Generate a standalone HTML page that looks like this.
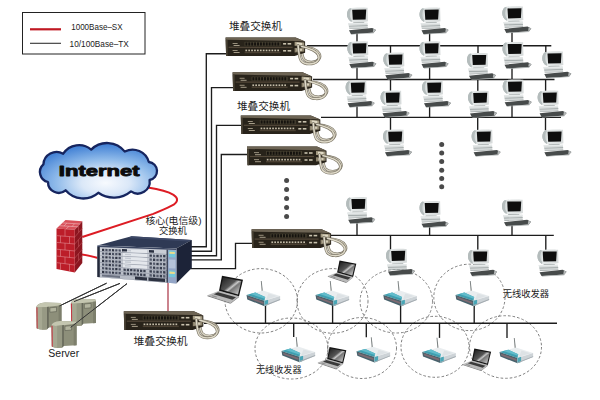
<!DOCTYPE html>
<html><head><meta charset="utf-8"><title>Network topology</title>
<style>
html,body{margin:0;padding:0;background:#fff;}
body{width:600px;height:400px;overflow:hidden;}
svg{display:block;font-family:"Liberation Sans",sans-serif;}
</style></head><body>
<svg width="600" height="400" viewBox="0 0 600 400">
<rect width="600" height="400" fill="#ffffff"/>

<defs>
<radialGradient id="cloudg" cx="0.56" cy="0.72" r="0.68">
 <stop offset="0" stop-color="#f7fafe"/>
 <stop offset="0.3" stop-color="#dbe8f8"/>
 <stop offset="0.62" stop-color="#90bbea"/>
 <stop offset="1" stop-color="#4684d6"/>
</radialGradient>
<linearGradient id="scr" x1="0" y1="0" x2="1" y2="1">
 <stop offset="0" stop-color="#1c1c1c"/><stop offset="0.45" stop-color="#555"/><stop offset="0.55" stop-color="#c8c8c8"/><stop offset="0.62" stop-color="#777"/><stop offset="1" stop-color="#d8d8d8"/>
</linearGradient>
<linearGradient id="mon" x1="0" y1="0" x2="1" y2="0">
 <stop offset="0" stop-color="#aeb6b6"/><stop offset="0.25" stop-color="#e4e8e8"/><stop offset="1" stop-color="#d6dada"/>
</linearGradient>
<linearGradient id="aptop" x1="0" y1="0" x2="1" y2="0">
 <stop offset="0" stop-color="#2f8fa4"/><stop offset="0.36" stop-color="#4db4c4"/><stop offset="0.42" stop-color="#dfe6ea"/><stop offset="1" stop-color="#eef1f3"/>
</linearGradient>
<linearGradient id="coref" x1="0" y1="0" x2="0" y2="1">
 <stop offset="0" stop-color="#cdd1d8"/><stop offset="1" stop-color="#b3b8c3"/>
</linearGradient>

<!-- stacked switch: origin top-left -->
<g id="sw">
 <path d="M75.5,9 C76,15 76.5,19.5 78.5,22 C82,25.8 90,25.6 93.5,21.5 C96,18 93,13.5 88,11.5 C84,10 80,9.5 77,9.3" fill="none" stroke="#7d7768" stroke-width="2.7" stroke-linecap="round"/>
 <path d="M75.5,9 C76,15 76.5,19.5 78.5,22 C82,25.8 90,25.6 93.5,21.5 C96,18 93,13.5 88,11.5 C84,10 80,9.5 77,9.3" fill="none" stroke="#d6d1c0" stroke-width="1.4" stroke-linecap="round"/>
 <path d="M0,0 L70,0 L79.5,4.2 L79.5,15.3 L69,18.7 L0.5,18.7 Z" fill="#28231a"/>
 <path d="M0,0 L70,0 L79.5,4.2 L69.5,3.6 L0,2.4 Z" fill="#6d6454"/>
 <path d="M0,2.4 L2,2.6 L2,18.7 L0.5,18.7 Z" fill="#4a4336"/>
 <rect x="3" y="9.3" width="64" height="1.2" fill="#54493a"/>
 <rect x="19" y="4.5" width="36" height="4" fill="#4a4434"/>
 <g fill="#15120e"><rect x="19.8" y="5" width="2" height="3.2"/><rect x="22.7" y="5" width="2" height="3.2"/><rect x="25.6" y="5" width="2" height="3.2"/><rect x="28.5" y="5" width="2" height="3.2"/><rect x="31.4" y="5" width="2" height="3.2"/><rect x="34.3" y="5" width="2" height="3.2"/><rect x="37.2" y="5" width="2" height="3.2"/><rect x="40.1" y="5" width="2" height="3.2"/><rect x="43.0" y="5" width="2" height="3.2"/><rect x="45.9" y="5" width="2" height="3.2"/><rect x="48.8" y="5" width="2" height="3.2"/><rect x="51.7" y="5" width="2" height="3.2"/></g>
 <g fill="#c4bca8"><rect x="19.8" y="12.2" width="1.7" height="1.7"/><rect x="22.7" y="12.2" width="1.7" height="1.7"/><rect x="25.6" y="12.2" width="1.7" height="1.7"/><rect x="28.5" y="12.2" width="1.7" height="1.7"/><rect x="31.4" y="12.2" width="1.7" height="1.7"/><rect x="34.3" y="12.2" width="1.7" height="1.7"/><rect x="37.2" y="12.2" width="1.7" height="1.7"/><rect x="40.1" y="12.2" width="1.7" height="1.7"/><rect x="43.0" y="12.2" width="1.7" height="1.7"/><rect x="45.9" y="12.2" width="1.7" height="1.7"/><rect x="48.8" y="12.2" width="1.7" height="1.7"/><rect x="51.7" y="12.2" width="1.7" height="1.7"/></g>
 <rect x="19" y="14.3" width="36" height="1.5" fill="#4a4032"/>
 <g fill="#a59c88"><rect x="7" y="5.6" width="5" height="0.9"/><rect x="8" y="7.6" width="6" height="1"/><rect x="7" y="12.6" width="5" height="0.9"/><rect x="8" y="14.6" width="6" height="1"/></g>
 <g fill="#c9c2ae"><rect x="57.5" y="5.6" width="3" height="1.6"/><rect x="62" y="5.6" width="3.6" height="1.6"/><rect x="57.5" y="12.6" width="3" height="1.6"/><rect x="62" y="12.6" width="3.6" height="1.6"/></g>
 <path d="M69,4.4 L78.6,5 L78.6,8.6 L69,8.3 Z" fill="#a39a82"/>
 <path d="M69,10.6 L78.6,10.6 L78.6,14.2 L69,15 Z" fill="#8d846e"/>
 <path d="M71,5.2 L76.5,5.5 L76.5,7.6 L71,7.4 Z" fill="#e0dac6"/>
 <path d="M71,11.4 L76.5,11.3 L76.5,13.4 L71,13.8 Z" fill="#d4cdb8"/>
 <path d="M72.5,8 C73,14.5 73.5,20.5 75.5,23.4 C79,27.6 88,27.6 92,23.6 C95.5,19.6 92,14.8 87,12.5 C83,10.8 79,9.6 76,9" fill="none" stroke="#7d7768" stroke-width="2.7" stroke-linecap="round"/>
 <path d="M72.5,8 C73,14.5 73.5,20.5 75.5,23.4 C79,27.6 88,27.6 92,23.6 C95.5,19.6 92,14.8 87,12.5 C83,10.8 79,9.6 76,9" fill="none" stroke="#e0dbca" stroke-width="1.4" stroke-linecap="round"/>
</g>

<!-- computer: origin = monitor top-left -->
<g id="pc">
 <path d="M3.2,0.6 C6,-0.2 16,-0.3 20.6,0.2 L21,13.6 C17,14.8 8,15 4.4,14.4 C1.5,13 -0.2,9.5 0,6.5 C0.2,3.4 1.4,1.4 3.2,0.6 Z" fill="url(#mon)"/>
 <path d="M5.2,2.1 L19.2,1.9 L18.6,11.8 L5.8,12.1 Z" fill="#0e0e0e"/>
 <path d="M3.2,0.6 C1.4,1.4 0.2,3.4 0,6.5 C-0.2,9.5 1.5,13 4.4,14.4 L4.8,12.6 C3.2,11 2.6,8.6 2.8,6.2 C3,3.8 3.6,2.2 4.6,1.4 Z" fill="#b4bcbc"/>
 <path d="M6.5,14.6 L17,14.4 L17.6,15.6 L5.6,15.8 Z" fill="#aab0b0"/>
 <path d="M1.2,15.6 L20.4,15.2 L20.8,20 L2.2,20.8 Z" fill="#d4d8d8"/>
 <path d="M1.2,15.6 L20.4,15.2 L20.5,16.5 L1.4,17 Z" fill="#e6eaea"/>
 <path d="M2,18.3 L20.7,17.7 L20.7,18.4 L2.1,19 Z" fill="#9aa2a2"/>
 <path d="M2.2,20.8 L20.8,20 L20.9,20.6 L2.5,21.4 Z" fill="#9aa2a2"/>
 <path d="M2,22.7 L25.2,20.3 L29,22.3 L26.8,25 L4,26.6 Z" fill="#474b4b"/>
 <path d="M26.4,21 L29,22.3 L26.8,25 L25.8,24.2 Z" fill="#b4b8b8"/>
 <path d="M4.4,26.4 L26.8,25.1 L26.8,25.7 L4.5,27 Z" fill="#a4aaaa"/>
</g>

<!-- access point: origin = bbox top-left of body -->
<g id="ap">
 <path d="M14.3,-9.6 L15.2,-9.6 L16.5,2 L15.3,2 Z" fill="#7a8080"/>
 <path d="M0,4.5 L16.5,0 L33.6,5.5 L18,10.3 Z" fill="#e9edef"/>
 <path d="M22,3 L31,5.6 L19.5,9.2 Z" fill="#dde2e5"/>
 <path d="M0,4.5 L8.8,2.1 L18.7,6.6 L18,10.3 Z" fill="#3f9fb0"/>
 <path d="M4,3.5 L8.8,2.1 L18.7,6.6 L18.4,8.2 Z" fill="#62bccb"/>
 <path d="M0,4.5 L18,10.3 L18,15.7 L0.8,9 Z" fill="#48626c"/>
 <path d="M1.5,6.2 L17,11.4 L17,13.4 L2,8.1 Z" fill="#7f6a72"/>
 <path d="M18,10.3 L33.6,5.5 L33.6,9.5 L18,15.7 Z" fill="#cdd3d7"/>
 <path d="M18,10.3 L21.6,9.2 L21.6,14.3 L18,15.7 Z" fill="#49a6b6"/>
 <path d="M18,14.6 L33.6,8.6 L33.6,9.5 L18,15.7 Z" fill="#a3abb0"/>
</g>

<!-- laptop (large): origin = screen top-left -->
<g id="lap">
 <path d="M-3,15 L17,20.5 L8.5,27 L-14.5,19.5 Z" fill="#b9b9b9"/>
 <path d="M-14.5,19.5 L8.5,27 L8.5,28 L-14.5,20.4 Z" fill="#7c7c7c"/>
 <path d="M8.5,27 L17,20.5 L17,21.4 L8.5,28 Z" fill="#8a8a8a"/>
 <path d="M-4,16.4 L14,21.4 L10.4,24 L-8.2,18.4 Z" fill="#3a3a3a"/>
 <path d="M-9.4,19.4 L-4.6,20.9 L-5.8,21.8 L-10.6,20.2 Z" fill="#8e8e8e"/>
 <path d="M0,0 L21,4 L17,20.5 L-3,15 Z" fill="#141414"/>
 <path d="M1.2,1.8 L19.4,5.2 L16,18.6 L-1.4,13.8 Z" fill="url(#scr)"/>
</g>
</defs>

<rect x="22.5" y="12.5" width="122.5" height="41.5" fill="#fff" stroke="#222" stroke-width="1"/>
<path d="M30.00,29.30 L61.00,29.30" fill="none" stroke="#c01822" stroke-width="2.2" />
<path d="M30.00,43.30 L61.00,43.30" fill="none" stroke="#333" stroke-width="1.1" />
<text x="71.2" y="30.1" font-size="8.7" fill="#222" textLength="51.4" lengthAdjust="spacingAndGlyphs">1000Base–SX</text>
<text x="69.6" y="47.4" font-size="8.7" fill="#222" textLength="59.2" lengthAdjust="spacingAndGlyphs">10/100Base–TX</text>
<ellipse cx="261.2" cy="300.8" rx="36.2" ry="32.2" fill="none" stroke="#707070" stroke-width="0.9" stroke-dasharray="2.6 2"/>
<ellipse cx="332.5" cy="300.9" rx="35.5" ry="32.3" fill="none" stroke="#707070" stroke-width="0.9" stroke-dasharray="2.6 2"/>
<ellipse cx="396.3" cy="301.2" rx="36.2" ry="31.8" fill="none" stroke="#707070" stroke-width="0.9" stroke-dasharray="2.6 2"/>
<ellipse cx="469.4" cy="297.4" rx="35.6" ry="33.2" fill="none" stroke="#707070" stroke-width="0.9" stroke-dasharray="2.6 2"/>
<ellipse cx="291.5" cy="348.5" rx="36.5" ry="30.5" fill="none" stroke="#707070" stroke-width="0.9" stroke-dasharray="2.6 2"/>
<ellipse cx="362" cy="348" rx="34.5" ry="30.5" fill="none" stroke="#707070" stroke-width="0.9" stroke-dasharray="2.6 2"/>
<ellipse cx="435" cy="346.8" rx="34" ry="30.5" fill="none" stroke="#707070" stroke-width="0.9" stroke-dasharray="2.6 2"/>
<ellipse cx="505.5" cy="347" rx="36" ry="31.3" fill="none" stroke="#707070" stroke-width="0.9" stroke-dasharray="2.6 2"/>
<path d="M226.00,53.70 L206.30,53.70 L206.30,246.70 L191.00,246.70" fill="none" stroke="#1c1c1c" stroke-width="1.35" />
<path d="M233.00,87.60 L211.50,87.60 L211.50,251.20 L191.00,251.20" fill="none" stroke="#1c1c1c" stroke-width="1.35" />
<path d="M241.00,125.30 L216.50,125.30 L216.50,255.70 L191.00,255.70" fill="none" stroke="#1c1c1c" stroke-width="1.35" />
<path d="M247.00,154.50 L221.30,154.50 L221.30,259.80 L191.00,259.80" fill="none" stroke="#1c1c1c" stroke-width="1.35" />
<path d="M190.50,268.60 L235.50,268.60 L235.50,243.30 L253.00,243.30" fill="none" stroke="#1c1c1c" stroke-width="1.35" />
<path d="M307.00,45.70 L551.30,45.70" fill="none" stroke="#1c1c1c" stroke-width="1.35" />
<path d="M313.00,79.50 L554.50,79.50" fill="none" stroke="#1c1c1c" stroke-width="1.35" />
<path d="M321.00,117.40 L561.00,117.40" fill="none" stroke="#1c1c1c" stroke-width="1.35" />
<path d="M330.00,235.30 L553.80,235.30" fill="none" stroke="#1c1c1c" stroke-width="1.35" />
<path d="M204.00,323.20 L557.00,323.20" fill="none" stroke="#1c1c1c" stroke-width="1.35" />
<path d="M106.60,283.20 L59.40,306.00" fill="none" stroke="#333" stroke-width="1.0" />
<path d="M120.00,283.40 L74.00,301.60" fill="none" stroke="#333" stroke-width="1.0" />
<path d="M127.00,283.60 L70.60,327.40" fill="none" stroke="#333" stroke-width="1.0" />
<path d="M147.8,187.6 C158,189.2 168,191.6 173.5,194.8 C178.5,198 178.6,202 171.7,205.7 C166,208.6 160,211.2 153.3,213.9 L82.3,237" fill="none" stroke="#dd1c24" stroke-width="2"/>
<path d="M82,254.6 C88,255.4 92,256.4 98,258" fill="none" stroke="#dd1c24" stroke-width="2"/>
<path d="M168.00,281.00 L168.00,311.50" fill="none" stroke="#a01e30" stroke-width="1.1" />
<path d="M357.00,32.60 L357.00,45.70" fill="none" stroke="#1c1c1c" stroke-width="1.35" />
<path d="M429.60,32.60 L429.60,45.70" fill="none" stroke="#1c1c1c" stroke-width="1.35" />
<path d="M512.00,31.30 L512.00,45.70" fill="none" stroke="#1c1c1c" stroke-width="1.35" />
<path d="M357.00,66.40 L357.00,79.50" fill="none" stroke="#1c1c1c" stroke-width="1.35" />
<path d="M429.60,66.40 L429.60,79.50" fill="none" stroke="#1c1c1c" stroke-width="1.35" />
<path d="M512.00,67.00 L512.00,79.50" fill="none" stroke="#1c1c1c" stroke-width="1.35" />
<path d="M390.50,45.70 L390.50,53.60" fill="none" stroke="#1c1c1c" stroke-width="1.35" />
<path d="M478.00,45.70 L478.00,54.00" fill="none" stroke="#1c1c1c" stroke-width="1.35" />
<path d="M545.80,45.70 L545.80,52.40" fill="none" stroke="#1c1c1c" stroke-width="1.35" />
<path d="M357.00,105.60 L357.00,117.40" fill="none" stroke="#1c1c1c" stroke-width="1.35" />
<path d="M429.60,105.60 L429.60,117.40" fill="none" stroke="#1c1c1c" stroke-width="1.35" />
<path d="M512.00,104.60 L512.00,117.40" fill="none" stroke="#1c1c1c" stroke-width="1.35" />
<path d="M390.50,79.50 L390.50,91.60" fill="none" stroke="#1c1c1c" stroke-width="1.35" />
<path d="M477.80,79.50 L477.80,91.80" fill="none" stroke="#1c1c1c" stroke-width="1.35" />
<path d="M545.60,79.50 L545.60,91.60" fill="none" stroke="#1c1c1c" stroke-width="1.35" />
<path d="M390.50,117.40 L390.50,130.60" fill="none" stroke="#1c1c1c" stroke-width="1.35" />
<path d="M477.70,117.40 L477.70,130.60" fill="none" stroke="#1c1c1c" stroke-width="1.35" />
<path d="M545.50,117.40 L545.50,130.60" fill="none" stroke="#1c1c1c" stroke-width="1.35" />
<path d="M357.00,222.00 L357.00,235.30" fill="none" stroke="#1c1c1c" stroke-width="1.35" />
<path d="M429.60,226.00 L429.60,235.30" fill="none" stroke="#1c1c1c" stroke-width="1.35" />
<path d="M512.00,224.50 L512.00,235.30" fill="none" stroke="#1c1c1c" stroke-width="1.35" />
<path d="M390.50,235.30 L390.50,249.80" fill="none" stroke="#1c1c1c" stroke-width="1.35" />
<path d="M477.80,235.30 L477.80,250.50" fill="none" stroke="#1c1c1c" stroke-width="1.35" />
<path d="M545.80,235.30 L545.80,250.50" fill="none" stroke="#1c1c1c" stroke-width="1.35" />
<use href="#pc" x="347" y="7.6"/>
<use href="#pc" x="419.5" y="7.6"/>
<use href="#pc" x="502.3" y="6.3"/>
<use href="#pc" x="347.3" y="41.4"/>
<use href="#pc" x="419.5" y="41.4"/>
<use href="#pc" x="502.5" y="42"/>
<use href="#pc" x="383.3" y="52.6"/>
<use href="#pc" x="467" y="53"/>
<use href="#pc" x="542.3" y="51.4"/>
<use href="#pc" x="345.6" y="80.6"/>
<use href="#pc" x="422" y="80.6"/>
<use href="#pc" x="502.7" y="79.6"/>
<use href="#pc" x="380.5" y="90.6"/>
<use href="#pc" x="468" y="90.8"/>
<use href="#pc" x="537.6" y="90.6"/>
<use href="#pc" x="383" y="129.6"/>
<use href="#pc" x="471.6" y="129.6"/>
<use href="#pc" x="542.4" y="129.6"/>
<use href="#pc" x="346.2" y="197"/>
<use href="#pc" x="419.5" y="201"/>
<use href="#pc" x="502" y="199.5"/>
<use href="#pc" x="386" y="248.8"/>
<use href="#pc" x="468" y="249.5"/>
<use href="#pc" x="537.5" y="249.5"/>
<circle cx="286.6" cy="180.5" r="2.5" fill="#4a4a4a"/>
<circle cx="286.6" cy="189.5" r="2.5" fill="#4a4a4a"/>
<circle cx="286.6" cy="198.5" r="2.5" fill="#4a4a4a"/>
<circle cx="286.6" cy="207.5" r="2.5" fill="#4a4a4a"/>
<circle cx="286.6" cy="216.5" r="2.5" fill="#4a4a4a"/>
<circle cx="441.7" cy="144.6" r="2.5" fill="#4a4a4a"/>
<circle cx="441.7" cy="153" r="2.5" fill="#4a4a4a"/>
<circle cx="441.7" cy="161.4" r="2.5" fill="#4a4a4a"/>
<circle cx="441.7" cy="170.2" r="2.5" fill="#4a4a4a"/>
<circle cx="441.7" cy="178.5" r="2.5" fill="#4a4a4a"/>
<circle cx="441.7" cy="186.8" r="2.5" fill="#4a4a4a"/>
<path d="M265.50,303.50 L265.50,323.20" fill="none" stroke="#1c1c1c" stroke-width="1.35" />
<path d="M332.60,303.50 L332.60,323.20" fill="none" stroke="#1c1c1c" stroke-width="1.35" />
<path d="M400.60,303.50 L400.60,323.20" fill="none" stroke="#1c1c1c" stroke-width="1.35" />
<path d="M474.20,303.50 L474.20,323.20" fill="none" stroke="#1c1c1c" stroke-width="1.35" />
<path d="M293.70,323.20 L293.70,337.00" fill="none" stroke="#1c1c1c" stroke-width="1.35" />
<path d="M366.30,323.20 L366.30,337.30" fill="none" stroke="#1c1c1c" stroke-width="1.35" />
<path d="M439.50,323.20 L439.50,337.90" fill="none" stroke="#1c1c1c" stroke-width="1.35" />
<path d="M507.00,323.20 L507.00,338.10" fill="none" stroke="#1c1c1c" stroke-width="1.35" />
<use href="#ap" x="246.5" y="290.5"/>
<use href="#ap" x="315.5" y="290.5"/>
<use href="#ap" x="383.3" y="290.5"/>
<use href="#ap" x="455.5" y="290.5"/>
<use href="#ap" x="281.5" y="346.5"/>
<use href="#ap" x="356.5" y="346.8"/>
<use href="#ap" x="422.2" y="347.4"/>
<use href="#ap" x="499.5" y="347.6"/>
<use href="#lap" x="222" y="275.8"/>
<g transform="translate(339.5,260.5) scale(0.8)"><use href="#lap"/></g>
<g transform="translate(329.5,347) scale(0.8)"><use href="#lap"/></g>
<g transform="translate(474.3,348.6) scale(0.8)"><use href="#lap"/></g>
<use href="#sw" x="225.6" y="37.4"/>
<use href="#sw" x="232.6" y="72.2"/>
<use href="#sw" x="240.8" y="115.4"/>
<use href="#sw" x="247" y="146.6"/>
<use href="#sw" x="251.6" y="229.2"/>
<use href="#sw" x="123.8" y="311.3"/>
<path d="M43.4,164.4 A13.2,13.2 0 0 1 63.2,153.7 A19,19 0 0 1 91.2,149.6 A22.5,22.5 0 0 1 124.8,151.6 A16.8,16.8 0 0 1 148.8,162 A9.1,9.1 0 0 1 149.6,180 A11.9,11.9 0 0 1 131,191.4 A27,27 0 0 1 98.3,192.8 A23,23 0 0 1 65.6,190.3 A10.7,10.7 0 0 1 48,182 A10.2,10.2 0 0 1 43.4,164.4 Z" fill="url(#cloudg)" stroke="#16255f" stroke-width="2.3" stroke-linejoin="round"/>
<text transform="translate(58.8,176.2) scale(1.47,1)" font-size="15" font-weight="bold" fill="#0c0c0c" stroke="#0c0c0c" stroke-width="0.9" stroke-linejoin="round">Internet</text>
<g>
<path d="M56.5,228.6 L65.5,220 L82.3,221.2 L74.8,229.8 Z" fill="#d8505a"/>
<path d="M74.8,229.8 L82.3,221.2 L82.3,263 L74.8,272.4 Z" fill="#8c1620"/>
<path d="M56.5,228.6 L74.8,229.8 L74.8,272.4 L56.5,269 Z" fill="#bc1d29"/>
<g stroke="#e3929a" stroke-width="0.55" fill="none">
<path d="M56.5,235.6 L74.8,237 M56.5,242.4 L74.8,244 M56.5,249.2 L74.8,251 M56.5,256 L74.8,258 M56.5,262.6 L74.8,265"/>
<path d="M65,229.2 L65,236.3 M60.5,235.9 L60.5,242.8 M69.5,236.6 L69.5,243.6 M65,243.1 L65,250.1 M60.5,249.6 L60.5,256.4 M69.5,250.5 L69.5,257.5 M65,257 L65,263.8 M60.5,263.2 L60.5,269.7 M69.5,264.2 L69.5,271.4"/>
</g>
<g stroke="#c05058" stroke-width="0.6" fill="none">
<path d="M74.8,237 L82.3,228.2 M74.8,244 L82.3,235.2 M74.8,251 L82.3,242.2 M74.8,258 L82.3,249.2 M74.8,265 L82.3,256"/>
<path d="M78.5,225.5 L78.5,232.6 M78.5,239.6 L78.5,246.8 M78.5,253.6 L78.5,260.6"/>
</g>
<g stroke="#f0b8bc" stroke-width="0.6" fill="none"><path d="M59.5,225.7 L77.8,226.8 M62.5,222.9 L80.2,224"/><path d="M66,229.2 L69,226.2 M72,226.5 L74.6,223.7 M64,225.9 L66.8,223.2"/></g>
</g>
<g><path d="M97.3,245.4 L131.5,236.2 L191.8,240 L176.3,248.4 Z" fill="#2f3a55"/><path d="M131.5,236.2 L191.8,240 L189,241.5 L128,238 Z" fill="#3d4866"/><path d="M176.3,248.4 L191.8,240 L191.8,268 L176.3,283.4 Z" fill="#1c2338"/><path d="M97.3,245.4 L176.3,248.4 L176.3,283.4 L97.3,277 Z" fill="url(#coref)"/><path d="M97.3,245.4 L176.3,248.4 L176.3,250 L97.3,247 Z" fill="#3a4560"/><path d="M97.3,247 L99.8,247.1 L99.8,277.2 L97.3,277 Z" fill="#23293a"/><path d="M99.8,251.33 L167.0,254.07 L167.0,254.48 L99.8,251.70 Z" fill="#7a8090"/><path d="M102.0,248.70 L104.3,248.79 L104.3,251.00 L102.0,250.91 Z" fill="#2e3342"/><path d="M105.3,248.82 L107.6,248.91 L107.6,251.13 L105.3,251.04 Z" fill="#4a5062"/><path d="M108.6,248.94 L110.9,249.03 L110.9,251.26 L108.6,251.17 Z" fill="#4a5062"/><path d="M111.9,249.06 L114.2,249.15 L114.2,251.40 L111.9,251.30 Z" fill="#2e3342"/><path d="M115.2,249.18 L117.5,249.27 L117.5,251.53 L115.2,251.44 Z" fill="#4a5062"/><path d="M118.5,249.30 L120.8,249.39 L120.8,251.66 L118.5,251.57 Z" fill="#4a5062"/><path d="M123.0,249.17 L147.0,250.03 L147.0,253.02 L123.0,252.05 Z" fill="#e4e7ec"/><path d="M125.0,249.85 L131.0,250.07 L131.0,251.45 L125.0,251.22 Z" fill="#c4c9d2"/><path d="M99.8,255.00 L167.0,258.12 L167.0,258.52 L99.8,255.36 Z" fill="#7a8090"/><path d="M102.0,252.38 L104.3,252.48 L104.3,254.69 L102.0,254.58 Z" fill="#4a5062"/><path d="M105.3,252.52 L107.6,252.62 L107.6,254.84 L105.3,254.74 Z" fill="#4a5062"/><path d="M108.6,252.66 L110.9,252.75 L110.9,254.99 L108.6,254.89 Z" fill="#2e3342"/><path d="M111.9,252.80 L114.2,252.89 L114.2,255.14 L111.9,255.04 Z" fill="#4a5062"/><path d="M115.2,252.94 L117.5,253.03 L117.5,255.29 L115.2,255.19 Z" fill="#4a5062"/><path d="M118.5,253.08 L120.8,253.17 L120.8,255.44 L118.5,255.34 Z" fill="#2e3342"/><path d="M123.0,252.96 L147.0,253.96 L147.0,256.95 L123.0,255.85 Z" fill="#e4e7ec"/><path d="M125.0,253.65 L131.0,253.91 L131.0,255.29 L125.0,255.03 Z" fill="#c4c9d2"/><path d="M149.5,254.38 L151.9,254.49 L151.9,256.86 L149.5,256.75 Z" fill="#363c4c"/><path d="M152.9,254.53 L155.3,254.63 L155.3,257.02 L152.9,256.91 Z" fill="#555b6c"/><path d="M156.3,254.67 L158.7,254.77 L158.7,257.17 L156.3,257.06 Z" fill="#363c4c"/><path d="M159.7,254.82 L162.1,254.92 L162.1,257.33 L159.7,257.22 Z" fill="#555b6c"/><path d="M163.1,254.96 L165.5,255.06 L165.5,257.48 L163.1,257.37 Z" fill="#363c4c"/><path d="M99.8,258.66 L167.0,262.17 L167.0,262.57 L99.8,259.03 Z" fill="#7a8090"/><path d="M102.0,256.06 L104.3,256.17 L104.3,258.38 L102.0,258.26 Z" fill="#4a5062"/><path d="M105.3,256.21 L107.6,256.32 L107.6,258.55 L105.3,258.43 Z" fill="#2e3342"/><path d="M108.6,256.37 L110.9,256.48 L110.9,258.72 L108.6,258.60 Z" fill="#4a5062"/><path d="M111.9,256.53 L114.2,256.64 L114.2,258.89 L111.9,258.77 Z" fill="#4a5062"/><path d="M115.2,256.69 L117.5,256.80 L117.5,259.06 L115.2,258.94 Z" fill="#2e3342"/><path d="M118.5,256.85 L120.8,256.96 L120.8,259.23 L118.5,259.11 Z" fill="#4a5062"/><path d="M123.0,256.76 L147.0,257.90 L147.0,260.89 L123.0,259.64 Z" fill="#e4e7ec"/><path d="M125.0,257.46 L131.0,257.75 L131.0,259.14 L125.0,258.83 Z" fill="#c4c9d2"/><path d="M149.5,258.33 L151.9,258.45 L151.9,260.82 L149.5,260.70 Z" fill="#555b6c"/><path d="M152.9,258.50 L155.3,258.61 L155.3,261.00 L152.9,260.88 Z" fill="#363c4c"/><path d="M156.3,258.66 L158.7,258.77 L158.7,261.17 L156.3,261.05 Z" fill="#555b6c"/><path d="M159.7,258.82 L162.1,258.94 L162.1,261.35 L159.7,261.22 Z" fill="#363c4c"/><path d="M163.1,258.98 L165.5,259.10 L165.5,261.52 L163.1,261.40 Z" fill="#555b6c"/><path d="M99.8,262.33 L167.0,266.21 L167.0,266.62 L99.8,262.69 Z" fill="#7a8090"/><path d="M102.0,259.73 L104.3,259.86 L104.3,262.07 L102.0,261.94 Z" fill="#2e3342"/><path d="M105.3,259.91 L107.6,260.03 L107.6,262.26 L105.3,262.13 Z" fill="#4a5062"/><path d="M108.6,260.09 L110.9,260.21 L110.9,262.45 L108.6,262.31 Z" fill="#4a5062"/><path d="M111.9,260.26 L114.2,260.39 L114.2,262.63 L111.9,262.50 Z" fill="#2e3342"/><path d="M115.2,260.44 L117.5,260.56 L117.5,262.82 L115.2,262.69 Z" fill="#4a5062"/><path d="M118.5,260.62 L120.8,260.74 L120.8,263.01 L118.5,262.88 Z" fill="#4a5062"/><path d="M123.0,260.55 L147.0,261.83 L147.0,264.82 L123.0,263.44 Z" fill="#e4e7ec"/><path d="M125.0,261.27 L131.0,261.60 L131.0,262.98 L125.0,262.64 Z" fill="#c4c9d2"/><path d="M149.5,262.28 L151.9,262.41 L151.9,264.79 L149.5,264.65 Z" fill="#363c4c"/><path d="M152.9,262.46 L155.3,262.59 L155.3,264.98 L152.9,264.84 Z" fill="#555b6c"/><path d="M156.3,262.64 L158.7,262.77 L158.7,265.17 L156.3,265.04 Z" fill="#363c4c"/><path d="M159.7,262.83 L162.1,262.96 L162.1,265.37 L159.7,265.23 Z" fill="#555b6c"/><path d="M163.1,263.01 L165.5,263.14 L165.5,265.56 L163.1,265.42 Z" fill="#363c4c"/><path d="M99.8,265.99 L167.0,270.26 L167.0,270.67 L99.8,266.36 Z" fill="#7a8090"/><path d="M102.0,263.41 L104.3,263.55 L104.3,265.76 L102.0,265.61 Z" fill="#4a5062"/><path d="M105.3,263.60 L107.6,263.74 L107.6,265.97 L105.3,265.82 Z" fill="#4a5062"/><path d="M108.6,263.80 L110.9,263.94 L110.9,266.17 L108.6,266.03 Z" fill="#2e3342"/><path d="M111.9,264.00 L114.2,264.13 L114.2,266.38 L111.9,266.24 Z" fill="#4a5062"/><path d="M115.2,264.19 L117.5,264.33 L117.5,266.59 L115.2,266.44 Z" fill="#4a5062"/><path d="M118.5,264.39 L120.8,264.52 L120.8,266.79 L118.5,266.65 Z" fill="#2e3342"/><path d="M123.0,264.35 L147.0,265.76 L147.0,268.75 L123.0,267.24 Z" fill="#e4e7ec"/><path d="M125.0,265.08 L131.0,265.44 L131.0,266.82 L125.0,266.45 Z" fill="#c4c9d2"/><path d="M149.5,266.23 L151.9,266.37 L151.9,268.75 L149.5,268.60 Z" fill="#555b6c"/><path d="M152.9,266.43 L155.3,266.57 L155.3,268.96 L152.9,268.81 Z" fill="#363c4c"/><path d="M156.3,266.63 L158.7,266.77 L158.7,269.17 L156.3,269.02 Z" fill="#555b6c"/><path d="M159.7,266.83 L162.1,266.98 L162.1,269.39 L159.7,269.24 Z" fill="#363c4c"/><path d="M163.1,267.03 L165.5,267.18 L165.5,269.60 L163.1,269.45 Z" fill="#555b6c"/><path d="M99.8,269.65 L167.0,274.31 L167.0,274.71 L99.8,270.02 Z" fill="#7a8090"/><path d="M102.0,267.09 L104.3,267.24 L104.3,269.45 L102.0,269.29 Z" fill="#4a5062"/><path d="M105.3,267.30 L107.6,267.45 L107.6,269.68 L105.3,269.52 Z" fill="#2e3342"/><path d="M108.6,267.51 L110.9,267.66 L110.9,269.90 L108.6,269.74 Z" fill="#4a5062"/><path d="M111.9,267.73 L114.2,267.88 L114.2,270.13 L111.9,269.97 Z" fill="#4a5062"/><path d="M115.2,267.94 L117.5,268.09 L117.5,270.35 L115.2,270.20 Z" fill="#2e3342"/><path d="M118.5,268.16 L120.8,268.31 L120.8,270.58 L118.5,270.42 Z" fill="#4a5062"/><path d="M123.5,268.48 L125.8,268.63 L125.8,270.92 L123.5,270.76 Z" fill="#3a4050"/><path d="M126.8,268.70 L129.1,268.85 L129.1,271.15 L126.8,270.99 Z" fill="#3a4050"/><path d="M130.1,268.91 L132.4,269.06 L132.4,271.37 L130.1,271.22 Z" fill="#3a4050"/><path d="M133.4,269.13 L135.7,269.28 L135.7,271.60 L133.4,271.44 Z" fill="#3a4050"/><path d="M136.7,269.34 L139.0,269.49 L139.0,271.82 L136.7,271.67 Z" fill="#3a4050"/><path d="M140.0,269.56 L142.3,269.71 L142.3,272.05 L140.0,271.89 Z" fill="#3a4050"/><path d="M143.3,269.77 L145.6,269.92 L145.6,272.28 L143.3,272.12 Z" fill="#3a4050"/><path d="M149.5,270.18 L151.9,270.33 L151.9,272.71 L149.5,272.54 Z" fill="#363c4c"/><path d="M152.9,270.40 L155.3,270.55 L155.3,272.94 L152.9,272.78 Z" fill="#555b6c"/><path d="M156.3,270.62 L158.7,270.77 L158.7,273.17 L156.3,273.01 Z" fill="#363c4c"/><path d="M159.7,270.84 L162.1,270.99 L162.1,273.41 L159.7,273.24 Z" fill="#555b6c"/><path d="M163.1,271.06 L165.5,271.22 L165.5,273.64 L163.1,273.47 Z" fill="#363c4c"/><path d="M99.8,273.32 L167.0,278.36 L167.0,278.76 L99.8,273.68 Z" fill="#7a8090"/><path d="M102.0,270.76 L104.3,270.93 L104.3,273.14 L102.0,272.97 Z" fill="#2e3342"/><path d="M105.3,271.00 L107.6,271.16 L107.6,273.38 L105.3,273.21 Z" fill="#4a5062"/><path d="M108.6,271.23 L110.9,271.39 L110.9,273.63 L108.6,273.46 Z" fill="#4a5062"/><path d="M111.9,271.46 L114.2,271.63 L114.2,273.87 L111.9,273.70 Z" fill="#2e3342"/><path d="M115.2,271.70 L117.5,271.86 L117.5,274.12 L115.2,273.95 Z" fill="#4a5062"/><path d="M118.5,271.93 L120.8,272.09 L120.8,274.36 L118.5,274.19 Z" fill="#4a5062"/><path d="M123.5,272.28 L125.8,272.45 L125.8,274.73 L123.5,274.56 Z" fill="#3a4050"/><path d="M126.8,272.52 L129.1,272.68 L129.1,274.98 L126.8,274.81 Z" fill="#3a4050"/><path d="M130.1,272.75 L132.4,272.91 L132.4,275.22 L130.1,275.05 Z" fill="#3a4050"/><path d="M133.4,272.98 L135.7,273.15 L135.7,275.47 L133.4,275.30 Z" fill="#3a4050"/><path d="M136.7,273.22 L139.0,273.38 L139.0,275.71 L136.7,275.54 Z" fill="#3a4050"/><path d="M140.0,273.45 L142.3,273.61 L142.3,275.96 L140.0,275.79 Z" fill="#3a4050"/><path d="M143.3,273.68 L145.6,273.85 L145.6,276.20 L143.3,276.03 Z" fill="#3a4050"/><path d="M149.5,274.12 L151.9,274.29 L151.9,276.67 L149.5,276.49 Z" fill="#555b6c"/><path d="M152.9,274.36 L155.3,274.53 L155.3,276.92 L152.9,276.74 Z" fill="#363c4c"/><path d="M156.3,274.60 L158.7,274.77 L158.7,277.17 L156.3,277.00 Z" fill="#555b6c"/><path d="M159.7,274.84 L162.1,275.01 L162.1,277.43 L159.7,277.25 Z" fill="#363c4c"/><path d="M163.1,275.08 L165.5,275.25 L165.5,277.68 L163.1,277.50 Z" fill="#555b6c"/><path d="M99.8,276.98 L167.0,282.40 L167.0,282.81 L99.8,277.35 Z" fill="#7a8090"/><path d="M122.0,248.98 L127.0,249.16 L127.0,251.60 L122.0,251.40 Z" fill="#2a3040"/><path d="M149.0,249.95 L154.0,250.13 L154.0,252.67 L149.0,252.47 Z" fill="#2a3040"/><path d="M135.0,276.50 L147.0,277.41 L147.0,280.55 L135.0,279.59 Z" fill="#2c3140"/><path d="M148.5,277.52 L165.0,278.77 L165.0,282.00 L148.5,280.67 Z" fill="#2c3140"/><path d="M102.0,274.44 L120.0,275.82 L120.0,277.93 L102.0,276.50 Z" fill="#6c7282"/><path d="M166.6,249.7 L167.9,249.8 L167.9,282.7 L166.6,282.6 Z" fill="#2a3044"/><path d="M167.9,249.9 L176.3,250.2 L176.3,283.4 L167.9,282.7 Z" fill="#93a5c6"/><path d="M168.8,250.6 L175.4,250.9 L175.4,257.4 L168.8,257.1 Z" fill="#73c6da"/><path d="M168.8,270.3 L175.4,270.8 L175.4,277.3 L168.8,276.9 Z" fill="#73c6da"/><path d="M169.4,251.8 L174.8,252 L174.8,254 L169.4,253.8 Z M169.4,271.6 L174.8,272 L174.8,274 L169.4,273.7 Z" fill="#ecdc8c"/><path d="M168.8,259.4 L175.4,259.8 L175.4,268.6 L168.8,268.2 Z" fill="#b5c2d8"/></g>
<g transform="translate(36.1,302.2)">
<path d="M0.3,5 C0.5,2.5 4,0.6 9,0.3 L24.6,0.8 L25.4,3 L25.4,24.6 L12.5,25.4 L11,27 C7,27.8 2.5,27.3 0.6,26 Z" fill="#8d8f7a"/>
<path d="M0.3,5 C0.5,2.5 4,0.6 9,0.3 L24.6,0.8 L25.4,3 L12,4.6 C8,5.4 3,5.6 0.3,5 Z" fill="#c4c6b0"/>
<path d="M0.3,5 C3,5.6 8,5.4 11,4.7 L11,27 C7,27.8 2.5,27.3 0.6,26 Z" fill="#a6a892"/>
<path d="M6,5.4 L11,4.7 L11,27 L6,27.5 Z" fill="#979984"/>
<path d="M11,4.7 L12.6,4.5 L12.6,25.4 L11,27 Z" fill="#66685a"/>
<path d="M22.5,3.4 L25.4,3 L25.4,24.6 L22.5,24.8 Z" fill="#7d7f6c"/>
<path d="M13.8,5.6 L20.4,5 L20.4,9.4 L13.8,10 Z" fill="#b2b49e" stroke="#5c5e50" stroke-width="0.6"/>
<path d="M0.3,5 L1.4,5.3 L1.6,26.5 L0.6,26 Z" fill="#c43844"/>
</g>
<g transform="translate(70.6,298.4)">
<path d="M0.3,5 C0.5,2.5 4,0.6 9,0.3 L24.6,0.8 L25.4,3 L25.4,24.6 L12.5,25.4 L11,27 C7,27.8 2.5,27.3 0.6,26 Z" fill="#8d8f7a"/>
<path d="M0.3,5 C0.5,2.5 4,0.6 9,0.3 L24.6,0.8 L25.4,3 L12,4.6 C8,5.4 3,5.6 0.3,5 Z" fill="#c4c6b0"/>
<path d="M0.3,5 C3,5.6 8,5.4 11,4.7 L11,27 C7,27.8 2.5,27.3 0.6,26 Z" fill="#a6a892"/>
<path d="M6,5.4 L11,4.7 L11,27 L6,27.5 Z" fill="#979984"/>
<path d="M11,4.7 L12.6,4.5 L12.6,25.4 L11,27 Z" fill="#66685a"/>
<path d="M22.5,3.4 L25.4,3 L25.4,24.6 L22.5,24.8 Z" fill="#7d7f6c"/>
<path d="M13.8,5.6 L20.4,5 L20.4,9.4 L13.8,10 Z" fill="#b2b49e" stroke="#5c5e50" stroke-width="0.6"/>
<path d="M0.3,5 L1.4,5.3 L1.6,26.5 L0.6,26 Z" fill="#c43844"/>
</g>
<path d="M120.00,283.40 L74.00,301.60" fill="none" stroke="#333" stroke-width="1.0" />
<g transform="translate(51.2,320.6)">
<path d="M0.3,5 C0.5,2.5 4,0.6 9,0.3 L24.6,0.8 L25.4,3 L25.4,24.6 L12.5,25.4 L11,27 C7,27.8 2.5,27.3 0.6,26 Z" fill="#8d8f7a"/>
<path d="M0.3,5 C0.5,2.5 4,0.6 9,0.3 L24.6,0.8 L25.4,3 L12,4.6 C8,5.4 3,5.6 0.3,5 Z" fill="#c4c6b0"/>
<path d="M0.3,5 C3,5.6 8,5.4 11,4.7 L11,27 C7,27.8 2.5,27.3 0.6,26 Z" fill="#a6a892"/>
<path d="M6,5.4 L11,4.7 L11,27 L6,27.5 Z" fill="#979984"/>
<path d="M11,4.7 L12.6,4.5 L12.6,25.4 L11,27 Z" fill="#66685a"/>
<path d="M22.5,3.4 L25.4,3 L25.4,24.6 L22.5,24.8 Z" fill="#7d7f6c"/>
<path d="M13.8,5.6 L20.4,5 L20.4,9.4 L13.8,10 Z" fill="#b2b49e" stroke="#5c5e50" stroke-width="0.6"/>
<path d="M0.3,5 L1.4,5.3 L1.6,26.5 L0.6,26 Z" fill="#c43844"/>
</g>
<path d="M127.00,283.60 L70.60,327.40" fill="none" stroke="#333" stroke-width="1.0" />
<path d="M106.60,283.20 L59.40,306.00" fill="none" stroke="#333" stroke-width="1.0" />
<text x="48.3" y="357.3" font-size="10" fill="#222" textLength="30.9" lengthAdjust="spacingAndGlyphs">Server</text>
<text x="229" y="30.2" font-size="10.2" fill="#1c1c1c" textLength="53.1" lengthAdjust="spacingAndGlyphs" style="font-family:'Liberation Sans','Noto Sans CJK SC',sans-serif">堆叠交换机</text>
<text x="237" y="110.1" font-size="10.2" fill="#1c1c1c" textLength="53" lengthAdjust="spacingAndGlyphs" style="font-family:'Liberation Sans','Noto Sans CJK SC',sans-serif">堆叠交换机</text>
<text x="133.5" y="344.8" font-size="10.2" fill="#1c1c1c" textLength="54.2" lengthAdjust="spacingAndGlyphs" style="font-family:'Liberation Sans','Noto Sans CJK SC',sans-serif">堆叠交换机</text>
<text x="145.4" y="224.1" font-size="9.4" fill="#1c1c1c" textLength="56.1" lengthAdjust="spacingAndGlyphs" style="font-family:'Liberation Sans','Noto Sans CJK SC',sans-serif">核心(电信级)</text>
<text x="158.9" y="234" font-size="8.8" fill="#1c1c1c" textLength="28" lengthAdjust="spacingAndGlyphs" style="font-family:'Liberation Sans','Noto Sans CJK SC',sans-serif">交换机</text>
<text x="502.7" y="296.9" font-size="9" fill="#1c1c1c" textLength="46.5" lengthAdjust="spacingAndGlyphs" style="font-family:'Liberation Sans','Noto Sans CJK SC',sans-serif">无线收发器</text>
<text x="256" y="373.1" font-size="8.8" fill="#1c1c1c" textLength="45.5" lengthAdjust="spacingAndGlyphs" style="font-family:'Liberation Sans','Noto Sans CJK SC',sans-serif">无线收发器</text>
</svg>
</body></html>
